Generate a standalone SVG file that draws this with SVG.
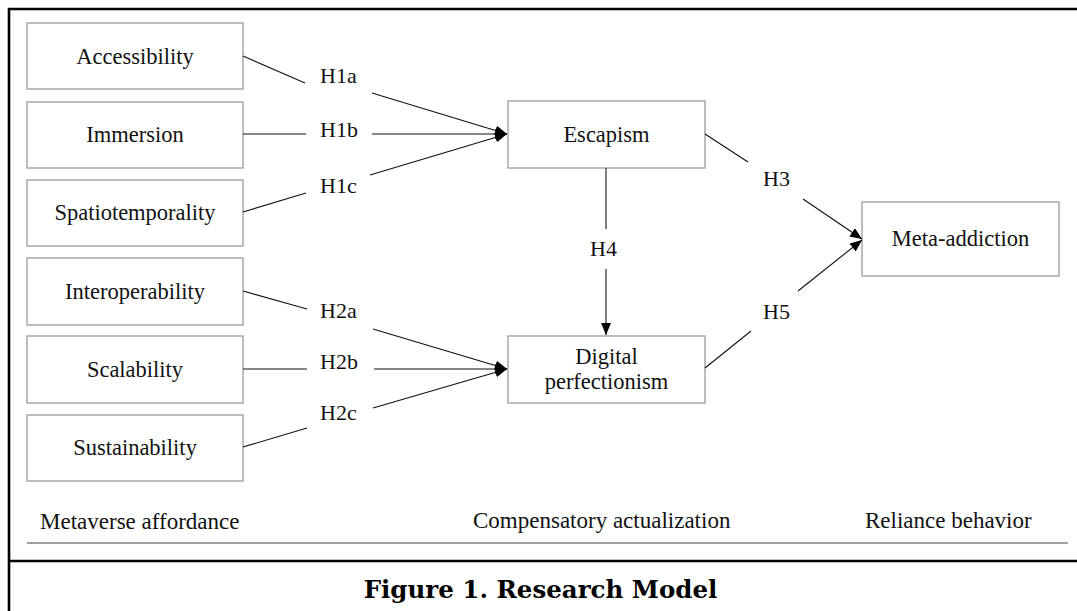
<svg xmlns="http://www.w3.org/2000/svg" width="1077" height="611" viewBox="0 0 1077 611">
<style>
.box{fill:#fff;stroke:#a8a8a8;stroke-width:1.5}
.t{font-family:"Liberation Serif","Times New Roman",serif;font-size:22.5px;fill:#111;text-anchor:middle}
.h{font-family:"Liberation Serif","Times New Roman",serif;font-size:22px;fill:#111}
.b{font-family:"Liberation Serif","Times New Roman",serif;font-size:23px;fill:#111}
.c{stroke:#111;stroke-width:1.1;fill:none}
.frame{stroke:#000;stroke-width:2.6;fill:none}
</style>
<defs>
<marker id="ah" viewBox="0 0 12 10" refX="12" refY="5" markerWidth="12" markerHeight="10" markerUnits="userSpaceOnUse" orient="auto">
<path d="M0,0 L12,5 L0,10 z" fill="#000"/>
</marker>
</defs>
<rect width="1077" height="611" fill="#fff"/>
<g id="frame">
<path class="frame" d="M9,611 V9 H1077"/>
<path class="frame" d="M9,561 H1077"/>
<path d="M27,543 H1068" stroke="#808080" stroke-width="1.6"/>
</g>
<g id="n-accessibility"><rect class="box" x="27" y="23" width="216" height="66"/><text class="t" x="135" y="64">Accessibility</text></g>
<g id="n-immersion"><rect class="box" x="27" y="102" width="216" height="66"/><text class="t" x="135" y="142">Immersion</text></g>
<g id="n-spatiotemporality"><rect class="box" x="27" y="180" width="216" height="66"/><text class="t" x="135" y="220">Spatiotemporality</text></g>
<g id="n-interoperability"><rect class="box" x="27" y="258" width="216" height="67"/><text class="t" x="135" y="299">Interoperability</text></g>
<g id="n-scalability"><rect class="box" x="27" y="336" width="216" height="67"/><text class="t" x="135" y="377">Scalability</text></g>
<g id="n-sustainability"><rect class="box" x="27" y="415" width="216" height="66"/><text class="t" x="135" y="455">Sustainability</text></g>
<g id="n-escapism"><rect class="box" x="508" y="101" width="197" height="67"/><text class="t" x="606.5" y="142">Escapism</text></g>
<g id="n-digital"><rect class="box" x="508" y="336" width="197" height="67"/><text class="t" x="606.5" y="364">Digital</text><text class="t" x="606.5" y="389">perfectionism</text></g>
<g id="n-meta"><rect class="box" x="862" y="202" width="197" height="74"/><text class="t" x="960.5" y="246">Meta-addiction</text></g>
<g id="connectors">
<line class="c" x1="243" y1="56" x2="305" y2="83"/>
<line class="c" x1="372" y1="93" x2="507" y2="134" marker-end="url(#ah)"/>
<line class="c" x1="243" y1="134" x2="306" y2="134"/>
<line class="c" x1="372" y1="134" x2="507" y2="134" marker-end="url(#ah)"/>
<line class="c" x1="243" y1="212" x2="306" y2="193"/>
<line class="c" x1="370" y1="175" x2="507" y2="134" marker-end="url(#ah)"/>
<line class="c" x1="243" y1="291" x2="307" y2="309"/>
<line class="c" x1="373" y1="329" x2="507" y2="369" marker-end="url(#ah)"/>
<line class="c" x1="243" y1="369" x2="307" y2="369"/>
<line class="c" x1="374" y1="369" x2="507" y2="369" marker-end="url(#ah)"/>
<line class="c" x1="243" y1="447" x2="307" y2="428"/>
<line class="c" x1="373" y1="408" x2="507" y2="369" marker-end="url(#ah)"/>
<line class="c" x1="606" y1="168" x2="606" y2="229"/>
<line class="c" x1="606" y1="269" x2="606" y2="335" marker-end="url(#ah)"/>
<line class="c" x1="705" y1="134" x2="748" y2="162"/>
<line class="c" x1="803" y1="199" x2="862" y2="239" marker-end="url(#ah)"/>
<line class="c" x1="705" y1="368" x2="751" y2="331"/>
<line class="c" x1="798" y1="291" x2="862" y2="240" marker-end="url(#ah)"/>
<text class="h" x="320" y="83">H1a</text>
<text class="h" x="320" y="137">H1b</text>
<text class="h" x="320" y="193">H1c</text>
<text class="h" x="320" y="318">H2a</text>
<text class="h" x="320" y="369">H2b</text>
<text class="h" x="320" y="420">H2c</text>
<text class="h" x="590" y="256">H4</text>
<text class="h" x="763" y="186">H3</text>
<text class="h" x="763" y="319">H5</text>
</g>
<g id="labels">
<text class="b" x="40" y="529">Metaverse affordance</text>
<text class="b" x="473" y="528">Compensatory actualization</text>
<text class="b" x="865" y="528">Reliance behavior</text>
<text x="540.5" y="598" text-anchor="middle" font-family="'DejaVu Serif','Liberation Serif',serif" font-weight="bold" font-size="24.5" fill="#000">Figure 1. Research Model</text>
</g>
</svg>
